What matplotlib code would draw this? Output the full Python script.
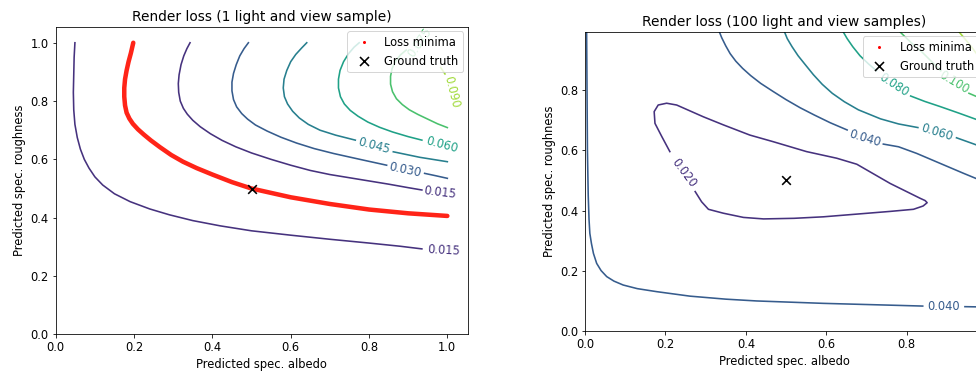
import matplotlib
matplotlib.use('Agg')
import matplotlib.pyplot as plt
from matplotlib.lines import Line2D
from matplotlib.colors import Normalize

# ---- left panel: 1 light / view sample (contour lines) ----
# level 0.015, lower-left branch
l1_a_x = [0.049, 0.047, 0.046, 0.045, 0.046, 0.049, 0.055, 0.063, 0.073, 0.085, 0.10, 0.12, 0.15, 0.19,
          0.24, 0.29, 0.35, 0.42, 0.50, 0.60, 0.70, 0.80, 0.88, 0.935]
l1_a_y = [1.0, 0.95, 0.89, 0.83, 0.77, 0.72, 0.675, 0.635, 0.60, 0.57, 0.54, 0.512, 0.482, 0.455,
          0.43, 0.41, 0.39, 0.372, 0.355, 0.34, 0.326, 0.313, 0.302, 0.293]
# level 0.015, upper-right branch
l1_b_x = [0.343, 0.335, 0.327, 0.32, 0.315, 0.313, 0.314, 0.318, 0.326, 0.336, 0.35, 0.369, 0.395, 0.425,
          0.46, 0.5, 0.55, 0.6, 0.65, 0.7, 0.75, 0.8, 0.85, 0.9, 0.935]
l1_b_y = [1.0, 0.98, 0.955, 0.925, 0.89, 0.86, 0.83, 0.80, 0.775, 0.755, 0.734, 0.712, 0.688, 0.665,
          0.643, 0.622, 0.60, 0.58, 0.562, 0.548, 0.537, 0.526, 0.515, 0.503, 0.495]
# level 0.030
l2_x = [0.492, 0.481, 0.47, 0.461, 0.454, 0.45, 0.45, 0.454, 0.462, 0.475, 0.49, 0.51, 0.54, 0.575,
        0.615, 0.66, 0.71, 0.777, 0.845]
l2_y = [1.0, 0.98, 0.955, 0.925, 0.895, 0.865, 0.835, 0.805, 0.78, 0.757, 0.738, 0.718, 0.697, 0.676,
        0.656, 0.637, 0.62, 0.60, 0.58]
l2_tail_x = [0.942, 0.97, 1.0]
l2_tail_y = [0.552, 0.544, 0.535]
# level 0.045
l3_x = [0.641, 0.628, 0.613, 0.60, 0.59, 0.583, 0.581, 0.584, 0.592, 0.605, 0.622, 0.645, 0.675, 0.715, 0.765]
l3_y = [1.0, 0.982, 0.96, 0.935, 0.905, 0.875, 0.845, 0.815, 0.79, 0.765, 0.742, 0.72, 0.70, 0.683, 0.666]
l3_tail_x = [0.862, 0.93, 1.0]
l3_tail_y = [0.626, 0.607, 0.592]
# level 0.060
l4_x = [0.775, 0.762, 0.748, 0.735, 0.726, 0.722, 0.722, 0.727, 0.737, 0.752, 0.772, 0.797, 0.827, 0.86,
        0.90, 0.935]
l4_y = [1.0, 0.985, 0.963, 0.935, 0.905, 0.875, 0.845, 0.815, 0.79, 0.768, 0.748, 0.728, 0.71, 0.694,
        0.678, 0.666]
# level 0.075
l5_x = [0.895, 0.88, 0.868, 0.859, 0.855, 0.855, 0.86, 0.87, 0.885, 0.903, 0.925, 0.95, 0.975, 1.0]
l5_y = [0.975, 0.958, 0.937, 0.912, 0.885, 0.858, 0.832, 0.808, 0.788, 0.77, 0.754, 0.738, 0.722, 0.709]
# level 0.090 (only a short piece above its label)
l6_x = [0.983, 0.994]
l6_y = [0.915, 0.893]

# loss minima (red valley) and ground truth
minima_x = [0.198, 0.192, 0.186, 0.181, 0.177, 0.175, 0.175, 0.177, 0.181, 0.188, 0.197, 0.21, 0.225,
            0.243, 0.266, 0.295, 0.325, 0.36, 0.40, 0.45, 0.5, 0.6, 0.7, 0.8, 0.9, 1.0]
minima_y = [1.0, 0.965, 0.935, 0.905, 0.875, 0.845, 0.815, 0.785, 0.76, 0.74, 0.722, 0.703, 0.685,
            0.665, 0.642, 0.615, 0.592, 0.57, 0.548, 0.522, 0.5, 0.47, 0.447, 0.428, 0.415, 0.406]
gt_albedo = [0.5]
gt_roughness = [0.5]

left_label_text = ['0.015', '0.015', '0.030', '0.045', '0.060', '0.075', '0.090']
left_label_lev = [0.015, 0.015, 0.030, 0.045, 0.060, 0.075, 0.090]
left_label_x = [0.99, 0.982, 0.893, 0.813, 0.987, 0.93, 1.012]
left_label_y = [0.288, 0.487, 0.562, 0.646, 0.649, 1.0, 0.83]
left_label_rot = [-3, -7, -12, -15, -15, 55, -76]

# ---- right panel: 100 light / view samples ----
# level 0.020, closed loop (starting/ending at its label)
r1_x = [0.274, 0.29, 0.307, 0.344, 0.394, 0.444, 0.52, 0.593, 0.676, 0.759, 0.817, 0.841, 0.851, 0.846,
        0.833, 0.759, 0.676, 0.626, 0.551, 0.468, 0.41, 0.344, 0.294, 0.228, 0.203, 0.182, 0.172,
        0.174, 0.191, 0.211]
r1_y = [0.463, 0.429, 0.404, 0.391, 0.377, 0.372, 0.374, 0.379, 0.388, 0.397, 0.404, 0.415, 0.426, 0.433,
        0.441, 0.49, 0.554, 0.574, 0.596, 0.629, 0.651, 0.685, 0.712, 0.751, 0.757, 0.751, 0.729,
        0.69, 0.646, 0.596]
# level 0.040, lower-left branch
r2_a_x = [0.004, 0.005, 0.006, 0.008, 0.010, 0.012, 0.016, 0.021, 0.029, 0.04, 0.054, 0.072, 0.095, 0.13,
          0.178, 0.261, 0.35, 0.427, 0.593, 0.759, 0.84]
r2_a_y = [0.995, 0.8, 0.6, 0.45, 0.37, 0.324, 0.29, 0.257, 0.224, 0.20, 0.18, 0.165, 0.152, 0.14,
          0.13, 0.115, 0.105, 0.099, 0.091, 0.085, 0.082]
r2_a_tail_x = [0.945, 0.99]
r2_a_tail_y = [0.080, 0.079]
# level 0.040, upper-right branch
r2_b_x = [0.334, 0.34, 0.35, 0.361, 0.375, 0.392, 0.412, 0.437, 0.468, 0.5, 0.535, 0.57, 0.61, 0.652]
r2_b_y = [0.995, 0.975, 0.948, 0.922, 0.897, 0.873, 0.849, 0.823, 0.796, 0.769, 0.742, 0.718, 0.692, 0.668]
r2_b_tail_x = [0.742, 0.78, 0.825, 0.883, 0.941, 0.99]
r2_b_tail_y = [0.621, 0.612, 0.59, 0.557, 0.524, 0.497]
# level 0.060
r3_x = [0.496, 0.503, 0.515, 0.53, 0.548, 0.568, 0.59, 0.615, 0.645, 0.68, 0.735, 0.78, 0.828]
r3_y = [0.995, 0.972, 0.945, 0.915, 0.885, 0.852, 0.82, 0.79, 0.762, 0.735, 0.705, 0.688, 0.676]
r3_tail_x = [0.924, 0.972, 0.99]
r3_tail_y = [0.642, 0.619, 0.61]
# level 0.080
r4_x = [0.642, 0.652, 0.666, 0.684, 0.705, 0.725]
r4_y = [0.995, 0.972, 0.945, 0.915, 0.888, 0.865]
r4_tail_x = [0.81, 0.845, 0.883, 0.93, 0.99]
r4_tail_y = [0.781, 0.763, 0.746, 0.724, 0.695]
# level 0.100
r5_x = [0.783, 0.81, 0.84, 0.87, 0.885]
r5_y = [0.995, 0.96, 0.925, 0.885, 0.865]
r5_tail_x = [0.955, 0.99]
r5_tail_y = [0.79, 0.77]
# level 0.120
r6_x = [0.93, 0.955, 0.975, 0.99]
r6_y = [0.995, 0.955, 0.92, 0.895]

right_label_text = ['0.020', '0.040', '0.040', '0.060', '0.080', '0.100']
right_label_lev = [0.020, 0.040, 0.040, 0.060, 0.080, 0.100]
right_label_x = [0.247, 0.893, 0.695, 0.876, 0.768, 0.918]
right_label_y = [0.524, 0.082, 0.641, 0.659, 0.818, 0.827]
right_label_rot = [-53, 0, -17, -17, -33, -31]

left_norm = Normalize(0.0, 0.105)
right_norm = Normalize(0.0, 0.14)
cmap = plt.get_cmap('viridis')

FS = 11.5
plt.rcParams['font.size'] = FS
plt.rcParams['axes.titlesize'] = 13.7

DPI = 72
fig = plt.figure(figsize=(976 / DPI, 372 / DPI), dpi=DPI)
ax1 = fig.add_axes([0.0571, 0.1013, 0.4221, 0.8269])
ax2 = fig.add_axes([0.5994, 0.111, 0.4078, 0.8038])

# left panel
left_curves = [(l1_a_x, l1_a_y, 0.015), (l1_b_x, l1_b_y, 0.015), (l2_x, l2_y, 0.030),
               (l2_tail_x, l2_tail_y, 0.030), (l3_x, l3_y, 0.045), (l3_tail_x, l3_tail_y, 0.045),
               (l4_x, l4_y, 0.060), (l5_x, l5_y, 0.075), (l6_x, l6_y, 0.090)]
for xs, ys, lev in left_curves:
    ax1.plot(xs, ys, color=cmap(left_norm(lev)), lw=1.6)
for s, x, y, r, lev in zip(left_label_text, left_label_x, left_label_y, left_label_rot, left_label_lev):
    ax1.text(x, y, s, rotation=r, color=cmap(left_norm(lev)), fontsize=FS,
             ha='center', va='center', rotation_mode='anchor')
ax1.plot(minima_x, minima_y, color='#ff2418', lw=4.5, solid_capstyle='round', zorder=3)
ax1.scatter(gt_albedo, gt_roughness, marker='x', color='black', s=75, linewidths=1.6, zorder=4)
ax1.set_xlim(0, 1.052)
ax1.set_ylim(0, 1.055)
ax1.set_xticks([0.0, 0.2, 0.4, 0.6, 0.8, 1.0])
ax1.set_yticks([0.0, 0.2, 0.4, 0.6, 0.8, 1.0])
ax1.set_title('Render loss (1 light and view sample)')
ax1.set_xlabel('Predicted spec. albedo')
ax1.set_ylabel('Predicted spec. roughness')

# right panel
right_curves = [(r1_x, r1_y, 0.020), (r2_a_x, r2_a_y, 0.040), (r2_a_tail_x, r2_a_tail_y, 0.040),
                (r2_b_x, r2_b_y, 0.040), (r2_b_tail_x, r2_b_tail_y, 0.040), (r3_x, r3_y, 0.060),
                (r3_tail_x, r3_tail_y, 0.060), (r4_x, r4_y, 0.080), (r4_tail_x, r4_tail_y, 0.080),
                (r5_x, r5_y, 0.100), (r5_tail_x, r5_tail_y, 0.100), (r6_x, r6_y, 0.120)]
for xs, ys, lev in right_curves:
    ax2.plot(xs, ys, color=cmap(right_norm(lev)), lw=1.6)
for s, x, y, r, lev in zip(right_label_text, right_label_x, right_label_y, right_label_rot, right_label_lev):
    ax2.text(x, y, s, rotation=r, color=cmap(right_norm(lev)), fontsize=FS,
             ha='center', va='center', rotation_mode='anchor')
ax2.scatter(gt_albedo, gt_roughness, marker='x', color='black', s=75, linewidths=1.6, zorder=4)
ax2.set_xlim(0, 0.99)
ax2.set_ylim(0, 0.995)
ax2.set_xticks([0.0, 0.2, 0.4, 0.6, 0.8])
ax2.set_yticks([0.0, 0.2, 0.4, 0.6, 0.8])
ax2.set_title('Render loss (100 light and view samples)')
ax2.set_xlabel('Predicted spec. albedo')
ax2.set_ylabel('Predicted spec. roughness')

handles = [Line2D([], [], ls='', marker='.', ms=4, color='red'),
           Line2D([], [], ls='', marker='x', ms=9, mew=1.6, color='black')]
for ax in (ax1, ax2):
    ax.legend(handles, ['Loss minima', 'Ground truth'], loc='upper right', fontsize=FS,
              framealpha=0.8, edgecolor='#cccccc', handletextpad=0.8, borderaxespad=0.4)

fig.savefig('out.png', dpi=DPI)
